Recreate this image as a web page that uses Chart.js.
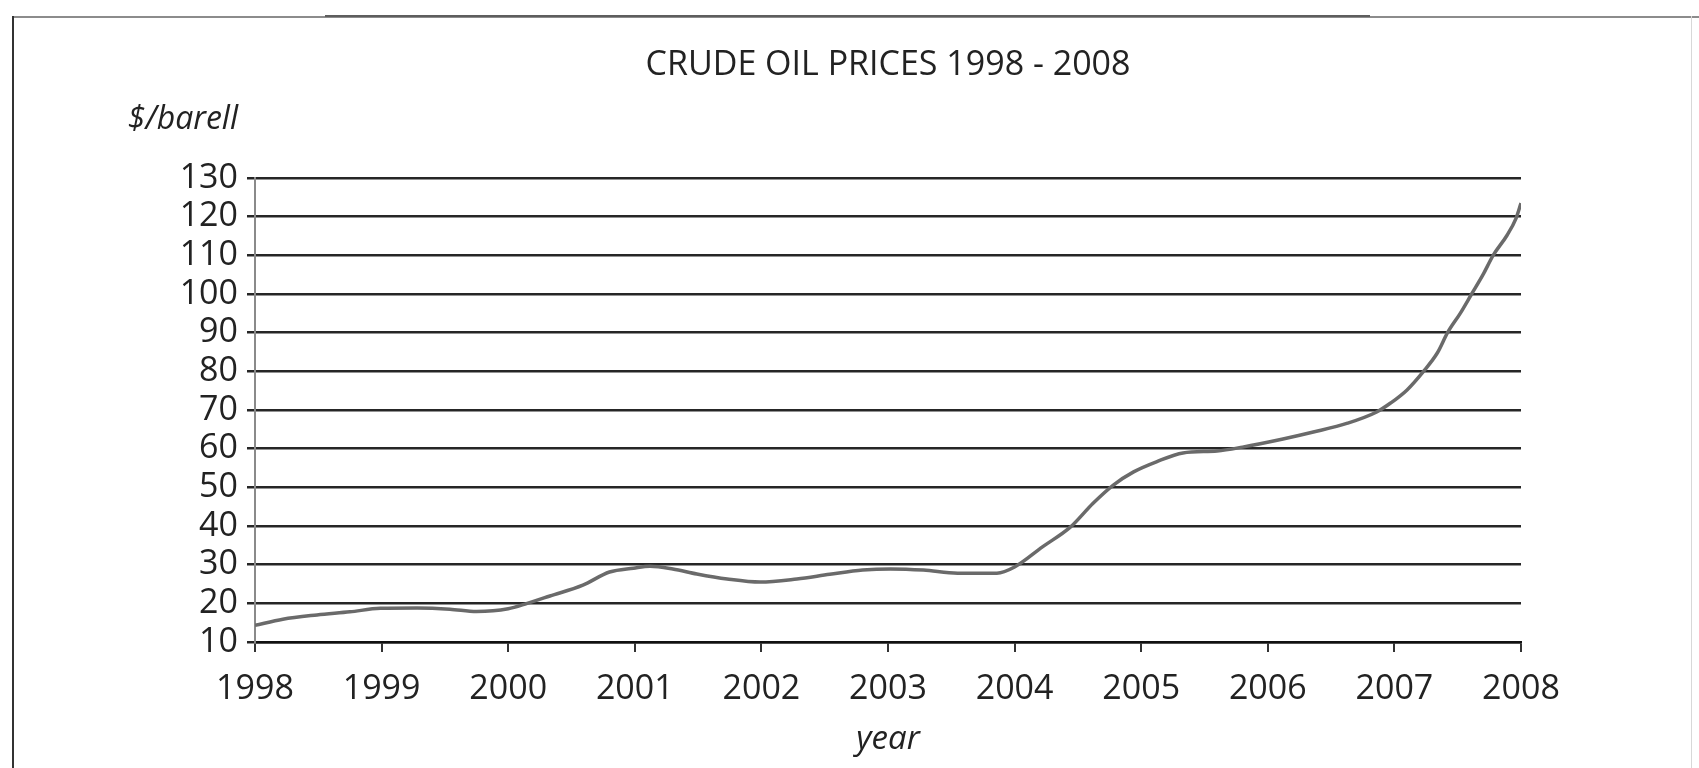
<!DOCTYPE html>
<html>
<head>
<meta charset="utf-8">
<title>Crude oil prices 1998 - 2008</title>
<script src="https://cdn.jsdelivr.net/npm/chart.js@4/dist/chart.umd.min.js"></script>
<style>
  html, body { margin: 0; padding: 0; background: #fff; }
  #wrap { position: relative; width: 1699px; height: 768px; overflow: hidden; }
  #chart { position: absolute; left: 0; top: 0; }
  .frame-top { position: absolute; left: 12px; top: 16px; width: 1700px; height: 0; border-top: 2px solid #8c8c8c; }
  .frame-smudge { position: absolute; left: 325px; top: 15px; width: 1045px; height: 0; border-top: 2px solid #5e5e5e; }
  .frame-left { position: absolute; left: 12px; top: 16px; width: 0; height: 760px; border-left: 2px solid #333; }
  .frame-right { position: absolute; left: 1691px; top: 16px; width: 0; height: 760px; border-left: 1px solid #d8d8d8; }
</style>
</head>
<body>
<div id="wrap">
  <div class="frame-top"></div>
  <div class="frame-smudge"></div>
  <div class="frame-left"></div>
  <div class="frame-right"></div>
  <canvas id="chart" width="1699" height="768"></canvas>
</div>
<script>
// values ($ per barrel)
const years = [
  1998.00, 1998.22, 1998.49, 1998.75, 1998.99, 1999.28, 1999.54, 1999.75,
  2000.00, 2000.15, 2000.33, 2000.59, 2000.80, 2000.99, 2001.12, 2001.30,
  2001.49, 2001.73, 2001.99, 2002.28, 2002.54, 2002.80, 2003.02, 2003.28,
  2003.55, 2003.86, 2004.00, 2004.22, 2004.44, 2004.62, 2004.78, 2004.94,
  2005.12, 2005.33, 2005.60, 2005.80, 2006.12, 2006.36, 2006.63, 2006.86,
  2006.97, 2007.10, 2007.23, 2007.34, 2007.42, 2007.52, 2007.61, 2007.70,
  2007.78, 2007.89, 2007.96, 2008.00
];
const prices = [
  14.3, 15.9, 17.0, 17.8, 18.7, 18.8, 18.5, 17.9,
  18.6, 20.0, 21.9, 24.7, 28.1, 29.1, 29.6, 28.9,
  27.6, 26.3, 25.5, 26.3, 27.5, 28.6, 28.9, 28.6,
  27.8, 27.8, 29.4, 34.6, 39.7, 45.9, 50.6, 54.0,
  56.6, 58.9, 59.4, 60.4, 62.5, 64.3, 66.6, 69.5,
  71.8, 75.2, 80.0, 84.8, 90.0, 95.0, 100.0, 105.0,
  110.0, 115.2, 119.5, 123.5
];

const firstYear = 1998;
const lastYear = 2008;
const priceMin = 10;
const priceMax = 130;
const priceStep = 10;

const chartTitle = "CRUDE OIL PRICES 1998 - 2008";
const unitLabel = "$/barell";
const xAxisLabel = "year";

const FONT = '"Open Sans", "Noto Sans", sans-serif';

const textPlugin = {
  id: "textPlugin",
  afterDraw(chart) {
    const { ctx, chartArea } = chart;
    ctx.save();
    ctx.fillStyle = "#222";
    ctx.textBaseline = "middle";

    ctx.font = "34px " + FONT;
    ctx.textAlign = "center";
    ctx.fillText(chartTitle, (chartArea.left + chartArea.right) / 2, 65);

    ctx.font = "italic 32px " + FONT;
    ctx.textAlign = "right";
    ctx.fillText(unitLabel, 238, 120);
    ctx.restore();
  }
};

const points = years.map((y, i) => ({ x: y, y: prices[i] }));

new Chart(document.getElementById("chart"), {
  type: "line",
  data: {
    datasets: [{
      label: "Crude oil price",
      data: points,
      borderColor: "#6a6a6a",
      borderWidth: 3.5,
      pointRadius: 0,
      fill: false,
      cubicInterpolationMode: "monotone"
    }]
  },
  options: {
    responsive: false,
    animation: false,
    layout: {
      padding: { top: 178, right: 178, bottom: 0, left: 0 }
    },
    plugins: {
      legend: { display: false },
      tooltip: { enabled: false },
      title: { display: false }
    },
    scales: {
      x: {
        type: "linear",
        min: firstYear,
        max: lastYear,
        afterFit: scale => { scale.height = 126; },
        ticks: {
          stepSize: 1,
          autoSkip: false,
          padding: 17,
          color: "#222",
          font: { family: FONT, size: 34 },
          maxRotation: 0,
          callback: v => String(v)
        },
        grid: {
          drawOnChartArea: false,
          drawTicks: true,
          tickLength: 10,
          color: "#333",
          lineWidth: 2
        },
        border: { display: true, color: "#111", width: 2.5 },
        title: {
          display: true,
          text: xAxisLabel,
          color: "#222",
          font: { family: FONT, size: 33, style: "italic" },
          padding: { top: 0, bottom: 9 }
        }
      },
      y: {
        min: priceMin,
        max: priceMax,
        afterFit: scale => { scale.width = 255; },
        ticks: {
          stepSize: priceStep,
          autoSkip: false,
          padding: 9,
          color: "#222",
          font: { family: FONT, size: 34 }
        },
        grid: {
          drawOnChartArea: true,
          drawTicks: true,
          tickLength: 8,
          color: "#262626",
          lineWidth: 2.5
        },
        border: { display: true, color: "#8a8a8a", width: 2 }
      }
    }
  },
  plugins: [textPlugin]
});
</script>
</body>
</html>
